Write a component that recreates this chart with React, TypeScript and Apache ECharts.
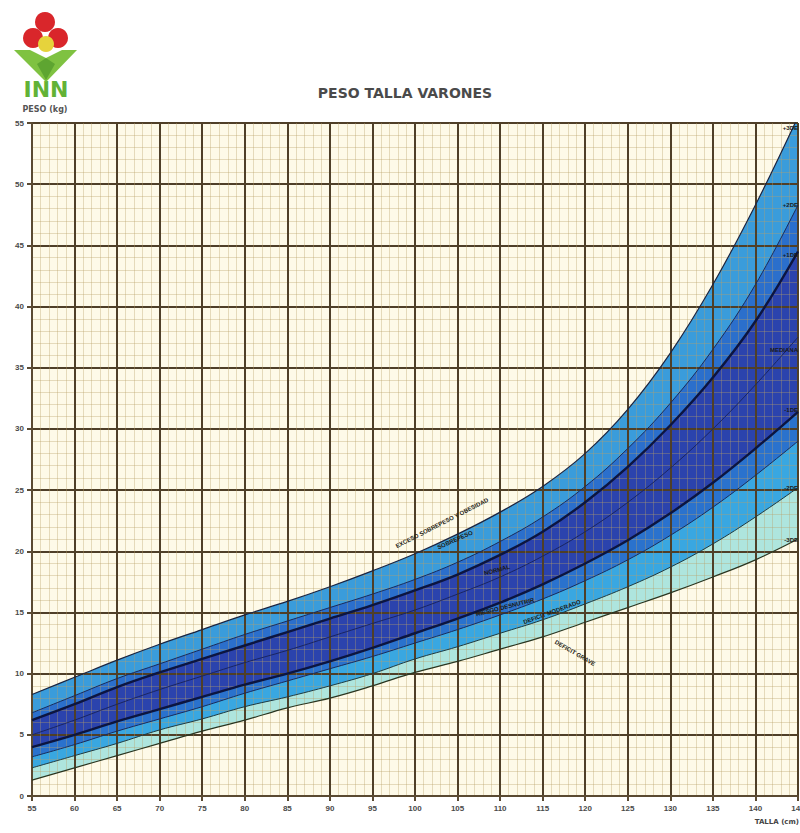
import React, { useEffect, useRef } from "react";
import * as echarts from "echarts";

// Talla (cm)
const heights = [55, 60, 65, 70, 75, 80, 85, 90, 95, 100, 105, 110, 115, 120, 125, 130, 135, 140, 145];

// Peso (kg) curves, top to bottom
const limitExceso = [8.3, 9.7, 11.1, 12.4, 13.6, 14.8, 15.9, 17.1, 18.4, 19.8, 21.4, 23.2, 25.3, 28.0, 31.6, 36.2, 41.8, 48.3, 55.5];
const plus2DE = [6.8, 8.2, 9.6, 10.8, 12.0, 13.2, 14.3, 15.4, 16.5, 17.7, 19.1, 20.8, 22.8, 25.3, 28.4, 32.1, 36.5, 41.8, 48.3];
const plus1DE = [6.2, 7.5, 8.9, 10.1, 11.2, 12.3, 13.4, 14.5, 15.6, 16.8, 18.1, 19.7, 21.6, 24.0, 26.9, 30.3, 34.2, 38.8, 44.5];
const mediana = [5.0, 6.2, 7.5, 8.7, 9.8, 10.9, 11.9, 13.0, 14.1, 15.2, 16.5, 17.9, 19.6, 21.6, 24.0, 26.8, 30.0, 33.6, 37.5];
const minus1DE = [4.0, 5.0, 6.1, 7.1, 8.1, 9.1, 10.0, 11.0, 12.1, 13.3, 14.5, 15.8, 17.3, 19.0, 20.9, 23.1, 25.6, 28.4, 31.4];
const minus2DE = [3.2, 4.2, 5.3, 6.3, 7.3, 8.4, 9.4, 10.4, 11.4, 12.5, 13.6, 14.8, 16.1, 17.6, 19.3, 21.3, 23.6, 26.2, 29.0];
const minus3DE = [2.3, 3.3, 4.3, 5.4, 6.3, 7.3, 8.1, 9.0, 10.0, 11.2, 12.2, 13.3, 14.4, 15.7, 17.1, 18.7, 20.6, 22.8, 25.2];
const limitGrave = [1.3, 2.3, 3.3, 4.3, 5.3, 6.2, 7.2, 8.0, 9.0, 10.1, 11.0, 12.0, 13.0, 14.2, 15.4, 16.6, 17.9, 19.3, 21.0];

const xTicks = { min: 55, max: 145, interval: 5 };
const yTicks = { min: 0, max: 55, interval: 5 };

const rightLabels = ["+3DE", "+2DE", "+1DE", "MEDIANA", "-1DE", "-2DE", "-3DE"];
const zoneLabels = ["EXCESO SOBREPESO Y OBESIDAD", "SOBREPESO", "NORMAL", "RIESGO DESNUTRIR", "DEFICIT MODERADO", "DEFICIT GRAVE"];

const CREAM = "#fefae8";

function pts(arr: number[]) {
  return heights.map((h, i) => [h, arr[i]]);
}

export default function App() {
  const ref = useRef<HTMLDivElement>(null);
  useEffect(() => {
    if (!ref.current) return;
    const chart = echarts.init(ref.current, null, { renderer: "svg" });

    const bands: [number[], string][] = [
      [limitExceso, "#3a9cdb"],
      [plus2DE, "#2b6fcc"],
      [plus1DE, "#2b43ad"],
      [minus1DE, "#2a72cd"],
      [minus2DE, "#39a7e1"],
      [minus3DE, "#aee5de"],
      [limitGrave, CREAM],
    ];
    const areaSeries = bands.map(([arr, color], i) => ({
      type: "line",
      name: "band" + i,
      data: pts(arr),
      smooth: 0.4,
      symbol: "none",
      z: 1,
      lineStyle: { width: 0 },
      areaStyle: { color, opacity: 1, origin: "start" },
      silent: true,
    }));

    const lines: [number[], number, string][] = [
      [limitExceso, 1.2, "#1b2440"],
      [plus2DE, 1.0, "#1a2b5a"],
      [plus1DE, 2.4, "#0c1540"],
      [mediana, 1.0, "#1a2560"],
      [minus1DE, 2.4, "#0c1540"],
      [minus2DE, 1.0, "#1a2b5a"],
      [minus3DE, 1.0, "#1f3a40"],
      [limitGrave, 1.2, "#2a3520"],
    ];
    const lineSeries = lines.map(([arr, w, c], i) => ({
      type: "line",
      name: "line" + i,
      data: pts(arr),
      smooth: 0.4,
      symbol: "none",
      z: 10,
      lineStyle: { width: w, color: c },
      silent: true,
    }));

    const rightYs = [128, 205, 255, 350, 410, 488, 540];
    const zonePos: [number, number, number][] = [
      [442, 523, 27],
      [455, 540, 24],
      [497, 570, 15],
      [505, 607, 14],
      [552, 612, 20],
      [575, 653, -30],
    ];

    chart.setOption({
      animation: false,
      backgroundColor: "#ffffff",
      grid: {
        left: 32, right: 2, top: 123, bottom: 37,
        backgroundColor: CREAM, show: true, borderWidth: 0,
        outerBoundsMode: "none", containLabel: false,
      },
      xAxis: {
        type: "value",
        min: xTicks.min,
        max: xTicks.max,
        interval: xTicks.interval,
        z: 5,
        axisLine: { show: true, lineStyle: { color: "#5a4a32", width: 2 } },
        axisTick: { show: true, length: 5, lineStyle: { color: "#5a4a32", width: 2 } },
        axisLabel: { color: "#4a4a4a", fontSize: 8, fontWeight: "bold", fontFamily: "Liberation Sans", margin: 8, showMaxLabel: true },
        splitLine: { show: true, lineStyle: { color: "#4f3f28", width: 2 } },
        minorTick: { show: false, splitNumber: 5 },
        minorSplitLine: { show: true, lineStyle: { color: "rgba(185,160,105,0.45)", width: 0.8 } },
      },
      yAxis: {
        type: "value",
        min: yTicks.min,
        max: yTicks.max,
        interval: yTicks.interval,
        z: 5,
        axisLine: { show: true, lineStyle: { color: "#5a4a32", width: 2 } },
        axisTick: { show: true, length: 5, lineStyle: { color: "#5a4a32", width: 2 } },
        axisLabel: { color: "#4a4a4a", fontSize: 8, fontWeight: "bold", fontFamily: "Liberation Sans", margin: 8 },
        splitLine: { show: true, lineStyle: { color: "#4f3f28", width: 2 } },
        minorTick: { show: false, splitNumber: 5 },
        minorSplitLine: { show: true, lineStyle: { color: "rgba(185,160,105,0.45)", width: 0.8 } },
      },
      series: [...areaSeries, ...lineSeries],
      graphic: [
        // INN logo
        { type: "circle", shape: { cx: 45, cy: 22, r: 10 }, style: { fill: "#d9262b" }, z: 20 },
        { type: "circle", shape: { cx: 33, cy: 38, r: 10 }, style: { fill: "#d9262b" }, z: 20 },
        { type: "circle", shape: { cx: 58, cy: 38, r: 10 }, style: { fill: "#d9262b" }, z: 20 },
        { type: "circle", shape: { cx: 46, cy: 44, r: 8 }, style: { fill: "#e6d33c" }, z: 21 },
        { type: "polygon", shape: { points: [[14, 50], [30, 50], [46, 58], [62, 50], [77, 50], [46, 82]] }, style: { fill: "#7fc241" }, z: 22 },
        { type: "polygon", shape: { points: [[46, 58], [37, 64], [46, 80], [55, 64]] }, style: { fill: "#5ea531" }, z: 23 },
        { type: "text", x: 46, y: 78, style: { text: "INN", fill: "#62b236", font: "bold 22px 'DejaVu Sans'", textAlign: "center" }, z: 20 },
        { type: "text", x: 45, y: 105, style: { text: "PESO (kg)", fill: "#555", font: "bold 8px 'DejaVu Sans'", textAlign: "center" }, z: 20 },
        // title
        { type: "text", x: 405, y: 86, style: { text: "PESO TALLA VARONES", fill: "#4a4a4a", font: "bold 14px 'DejaVu Sans'", textAlign: "center" }, z: 20 },
        // x-axis name
        { type: "text", x: 799, y: 818, style: { text: "TALLA (cm)", fill: "#444", font: "bold 7px 'DejaVu Sans'", textAlign: "right" }, z: 20 },
        // right-side labels
        ...rightLabels.map((t, i) => ({
          type: "text",
          x: 798,
          y: rightYs[i],
          style: { text: t, fill: "#1a1a1a", font: "bold 6px 'Liberation Sans'", textAlign: "right", textVerticalAlign: "middle" },
          z: 30,
        })),
        // zone labels
        ...zoneLabels.map((t, i) => ({
          type: "text",
          x: zonePos[i][0],
          y: zonePos[i][1],
          rotation: (zonePos[i][2] * Math.PI) / 180,
          style: { text: t, fill: "#1c1a14", font: "bold 6px 'Liberation Sans'", textAlign: "center", textVerticalAlign: "middle" },
          z: 30,
        })),
      ],
    });
    return () => chart.dispose();
  }, []);
  return <div ref={ref} style={{ position: "fixed", left: 0, top: 0, width: 800, height: 833 }} />;
}
